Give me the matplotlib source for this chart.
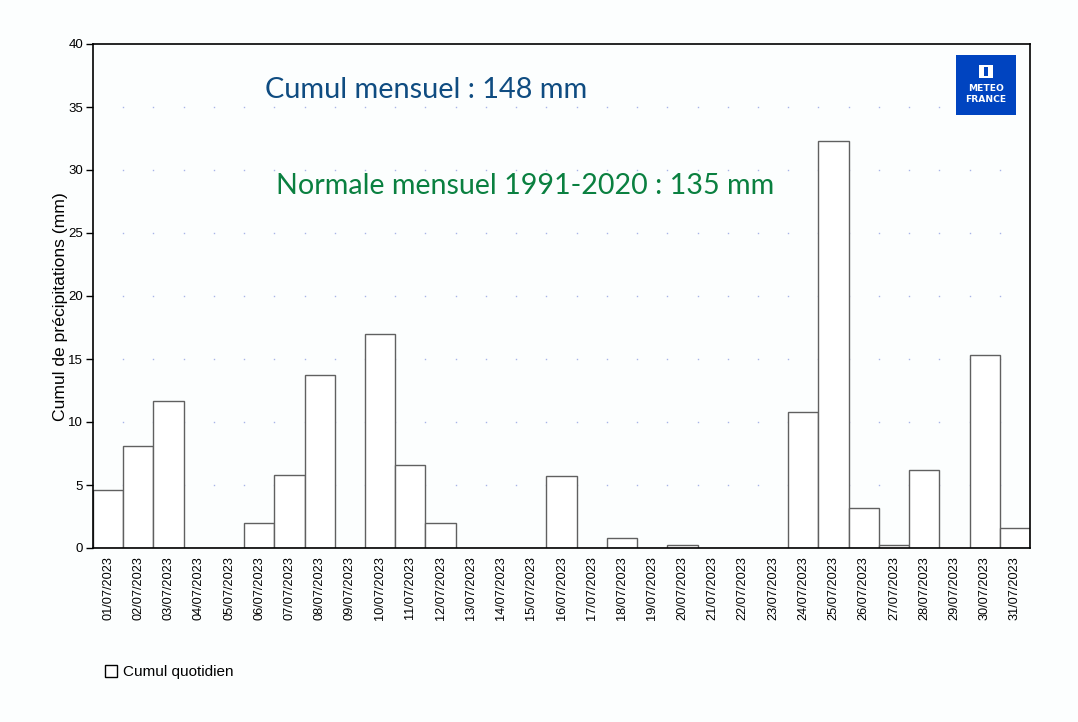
import matplotlib
matplotlib.use("Agg")
import matplotlib.pyplot as plt
from matplotlib.patches import Rectangle
import numpy as np

days = [f"{d:02d}/07/2023" for d in range(1, 32)]
rain = [4.6, 8.1, 11.7, 0.0, 0.0, 2.0, 5.8, 13.7, 0.0, 17.0,
        6.6, 2.0, 0.0, 0.0, 0.0, 5.7, 0.0, 0.8, 0.0, 0.2,
        0.0, 0.0, 0.0, 10.8, 32.3, 3.2, 0.2, 6.2, 0.0, 15.3, 1.6]
y_ticks = [0, 5, 10, 15, 20, 25, 30, 35, 40]
cumul_text = "Cumul mensuel : 148 mm"
normale_text = "Normale mensuel 1991-2020 : 135 mm"
legend_label = "Cumul quotidien"
ylabel = "Cumul de précipitations (mm)"

W, H = 1078, 722
bg = "#fcfefe"
fig = plt.figure(figsize=(W / 100, H / 100), dpi=100, facecolor=bg)
ax = fig.add_axes([93 / W, (H - 548) / H, (1030 - 93) / W, (548 - 44) / H])
ax.set_facecolor(bg)

x = np.arange(len(days))
# dotted grid: dots at bar boundaries on each gridline
gx = x[1:] - 0.5
for yv in y_ticks[1:-1]:
    ax.plot(gx, [yv] * len(gx), linestyle="none", marker="s", markersize=1.0,
            markeredgewidth=0, color="#a8b4e8", zorder=1)

bars = ax.bar(x, rain, width=1.0, color="white", edgecolor="#606060",
              linewidth=1.0, zorder=2, label=legend_label)

ax.set_xlim(-0.5, len(days) - 0.5)
ax.set_ylim(0, 40)
ax.set_yticks(y_ticks)
ax.set_yticklabels([str(v) for v in y_ticks], fontsize=9.5, family="Liberation Sans")
ax.set_xticks(x)
ax.set_xticklabels(days, rotation=90, fontsize=9.2, family="Liberation Sans", va="top")
ax.tick_params(axis="x", length=0, pad=6)
ax.tick_params(axis="y", length=5, width=1, direction="out", pad=2)
for s in ax.spines.values():
    s.set_color("black")
    s.set_linewidth(1.2)
ax.set_ylabel(ylabel, fontsize=12.6, family="Liberation Sans", labelpad=0)
ax.yaxis.label.set_y(0.48)

fig.text(265 / W, 1 - 90 / H, cumul_text, fontsize=20.8,
         family="Lato", color="#0f4c81", va="center", ha="left")
fig.text(276 / W, 1 - 186 / H, normale_text, fontsize=20.6,
         family="Lato", color="#0a8040", va="center", ha="left")

# logo
fig.patches.append(Rectangle((956 / W, 1 - 115 / H), 60 / W, 60 / H,
                             transform=fig.transFigure, facecolor="#0044c0",
                             edgecolor="none", zorder=5))
fig.patches.append(Rectangle((979 / W, 1 - 78 / H), 14 / W, 13 / H,
                             transform=fig.transFigure, facecolor="white",
                             edgecolor="none", zorder=6))
fig.patches.append(Rectangle((984 / W, 1 - 76 / H), 4 / W, 9 / H,
                             transform=fig.transFigure, facecolor="#0044c0",
                             edgecolor="none", zorder=6))
fig.text(986 / W, 1 - 94 / H, "METEO\nFRANCE", color="white", fontsize=6.6,
         fontweight="bold", ha="center", va="center", linespacing=1.15,
         family="DejaVu Sans", zorder=7)

fig.legend(handles=[bars], labels=[legend_label], loc="center left",
           bbox_to_anchor=(105 / W, 1 - 672 / H), frameon=False,
           prop={"family": "Liberation Sans", "size": 11},
           handlelength=0.8, handleheight=0.8, handletextpad=0.35,
           borderaxespad=0, borderpad=0)
leg = fig.legends[0]
for h in leg.legend_handles:
    h.set_edgecolor("black")

fig.savefig("out.png", dpi=100, facecolor=bg)
